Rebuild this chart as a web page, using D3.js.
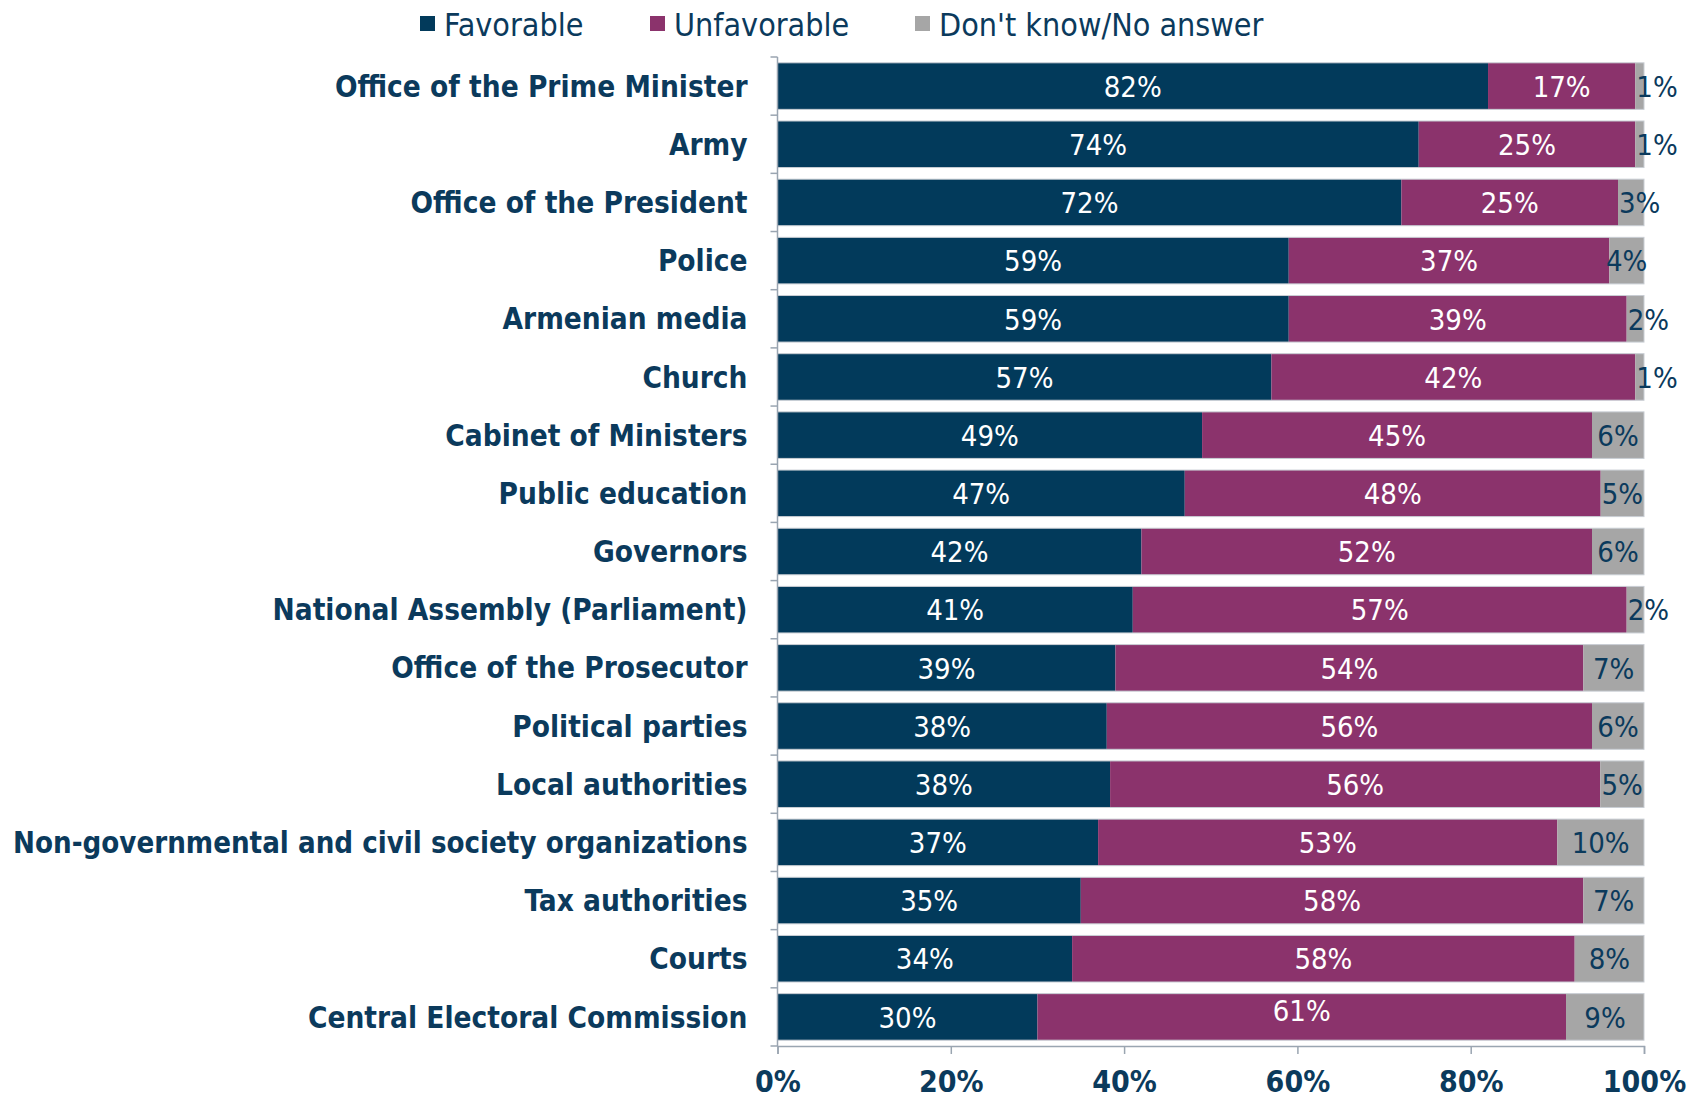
<!DOCTYPE html>
<html><head><meta charset="utf-8">
<script src="https://cdn.jsdelivr.net/npm/d3@7"></script>
<style>
html,body{margin:0;padding:0;background:#fff;}
svg text{font-family:"Liberation Sans Narrow","DejaVu Sans Condensed","Roboto Condensed",sans-serif;}
</style></head>
<body><svg id="c" width="1698" height="1099"></svg>
<script>
const categories = ["Office of the Prime Minister","Army","Office of the President","Police","Armenian media","Church","Cabinet of Ministers","Public education","Governors","National Assembly (Parliament)","Office of the Prosecutor","Political parties","Local authorities","Non-governmental and civil society organizations","Tax authorities","Courts","Central Electoral Commission"];
const favorable   = [82,74,72,59,59,57,49,47,42,41,39,38,38,37,35,34,30];
const unfavorable = [17,25,25,37,39,42,45,48,52,57,54,56,56,53,58,58,61];
const dontKnow    = [1,1,3,4,2,1,6,5,6,2,7,6,5,10,7,8,9];
const seriesNames = ["Favorable","Unfavorable","Don't know/No answer"];
const xTicks = [0,0.2,0.4,0.6,0.8,1];

const colors = ["#023a5b","#8b336c","#a6a6a6"];
const textDark = "#0b3a5c";
const keys = ["fav","unf","dk"];
const rows = categories.map((c,i)=>({cat:c,fav:favorable[i],unf:unfavorable[i],dk:dontKnow[i]}));

const svg = d3.select("#c");
const x = d3.scaleLinear().domain([0,1]).range([777.5,1644]);
const y = d3.scaleBand().domain(categories).range([57,1046]).paddingInner(0.2).paddingOuter(0.1);

const stack = d3.stack().keys(keys).offset(d3.stackOffsetExpand);
const series = stack(rows);

// bars
series.forEach((s,si)=>{
  const g = svg.append("g");
  g.selectAll("rect").data(s).join("rect")
    .attr("x",d=>x(d[0])).attr("y",d=>y(d.data.cat))
    .attr("width",d=>x(d[1])-x(d[0])).attr("height",y.bandwidth())
    .attr("fill",colors[si]);
});
svg.append("g").selectAll("rect").data(rows).join("rect")
  .attr("x",x(0)).attr("y",d=>y(d.cat)).attr("width",x(1)-x(0)).attr("height",y.bandwidth())
  .attr("fill","none").attr("stroke","#c9ced4").attr("stroke-width",1);

// labels
series.forEach((s,si)=>{
  const key = keys[si];
  svg.append("g").selectAll("text").data(s).join("text")
    .attr("x",d=>{
      const v=d.data[key];
      if(si===2 && v<=3) return x(d[0])+1;
      return (x(d[0])+x(d[1]))/2;
    })
    .attr("y",d=>y(d.data.cat)+y.bandwidth()/2 - ((si===1 && d.data.cat==="Central Electoral Commission")?7:0))
    .attr("dy","0.37em")
    .attr("text-anchor",d=>(si===2 && d.data[key]<=3)?"start":"middle")
    .attr("font-size",29)
    .attr("fill",si===2?textDark:"#ffffff")
    .text(d=>d.data[key]+"%");
});

// y axis
const yAxis = svg.append("g").attr("transform",`translate(${x(0)},0)`);
yAxis.append("line").attr("x1",0).attr("x2",0).attr("y1",y.range()[0]).attr("y2",y.range()[1]).attr("stroke","#9aa5b1").attr("stroke-width",1.5);
const bounds = d3.range(categories.length+1).map(k=>y.range()[0]+k*y.step());
yAxis.selectAll("line.t").data(bounds).join("line").attr("class","t")
  .attr("x1",-7).attr("x2",0).attr("y1",d=>d).attr("y2",d=>d).attr("stroke","#9aa5b1").attr("stroke-width",1.5);
const maxLabelW = x(0) - 30 - 13;
yAxis.selectAll("text").data(categories).join("text")
  .attr("x",-30).attr("y",d=>y(d)+y.bandwidth()/2).attr("dy","0.36em")
  .attr("text-anchor","end").attr("font-weight","bold").attr("font-size",29.5).attr("fill",textDark)
  .text(d=>d)
  .each(function(){
    const w=this.getComputedTextLength();
    if(w>maxLabelW){ d3.select(this).attr("textLength",maxLabelW).attr("lengthAdjust","spacingAndGlyphs"); }
  });

// x axis
const xAxis = svg.append("g").attr("transform",`translate(0,${y.range()[1]})`)
  .call(d3.axisBottom(x).tickValues(xTicks).tickFormat(d3.format(".0%")).tickSize(8).tickPadding(17));
xAxis.select(".domain").attr("stroke","#9aa5b1").attr("stroke-width",1.5);
xAxis.selectAll(".tick line").attr("stroke","#9aa5b1").attr("stroke-width",1.5);
xAxis.selectAll(".tick text").attr("font-size",30).attr("font-weight","bold").attr("fill",textDark)
  .attr("font-family",'"Liberation Sans Narrow","DejaVu Sans Condensed",sans-serif');

// legend
const legX = [420,650,915];
const leg = svg.append("g");
seriesNames.forEach((n,i)=>{
  leg.append("rect").attr("x",legX[i]).attr("y",16).attr("width",15).attr("height",15).attr("fill",colors[i]);
  leg.append("text").attr("x",legX[i]+24).attr("y",24).attr("dy","0.36em").attr("font-size",32).attr("fill",textDark).text(n);
});
</script></body></html>
